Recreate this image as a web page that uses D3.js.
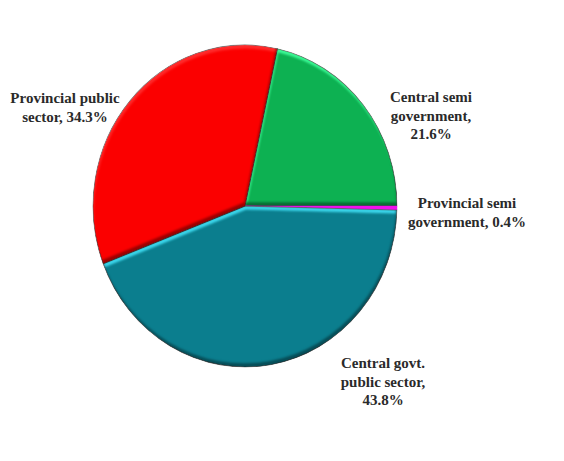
<!DOCTYPE html>
<html>
<head>
<meta charset="utf-8">
<script src="https://cdn.jsdelivr.net/npm/d3@7"></script>
<style>
  html, body { margin: 0; padding: 0; background: #fff; }
  svg { display: block; }
</style>
</head>
<body>
<svg id="chart" width="564" height="461"></svg>
<script>
const categories = ["Central semi government", "Provincial semi government", "Central govt. public sector", "Provincial public sector"];
const values = [21.6, 0.4, 43.8, 34.3];
const labelLines = [
  ["Central semi", "government,", "21.6%"],
  ["Provincial semi", "government, 0.4%"],
  ["Central govt.", "public sector,", "43.8%"],
  ["Provincial public", "sector, 34.3%"]
];
const colors = ["#0db152", "#f010ee", "#0b7e8e", "#fb0000"];
const labelPos = [[431, 102], [467, 208], [383, 368], [65, 103]];

const svg = d3.select("#chart");
const cx = 245, cy = 206, rx = 152, ry = 161;

const defs = svg.append("defs");
const f = defs.append("filter").attr("id", "bevel")
  .attr("color-interpolation-filters", "sRGB")
  .attr("x", "-10%").attr("y", "-10%").attr("width", "120%").attr("height", "120%");
// light top band
f.append("feOffset").attr("in", "SourceAlpha").attr("dx", 1).attr("dy", 3.5).attr("result", "down");
f.append("feComposite").attr("in", "SourceAlpha").attr("in2", "down").attr("operator", "out").attr("result", "topEdge");
f.append("feGaussianBlur").attr("in", "topEdge").attr("stdDeviation", 0.9).attr("result", "topBlur");
const lt = f.append("feComponentTransfer").attr("in", "SourceGraphic").attr("result", "lighter");
["feFuncR", "feFuncG", "feFuncB"].forEach(fn => lt.append(fn).attr("type", "linear").attr("slope", 1.35).attr("intercept", 0.18));
f.append("feComposite").attr("in", "lighter").attr("in2", "topBlur").attr("operator", "in").attr("result", "hl");
// dark bottom band
f.append("feOffset").attr("in", "SourceAlpha").attr("dx", -1).attr("dy", -3.5).attr("result", "up");
f.append("feComposite").attr("in", "SourceAlpha").attr("in2", "up").attr("operator", "out").attr("result", "botEdge");
f.append("feGaussianBlur").attr("in", "botEdge").attr("stdDeviation", 1).attr("result", "botBlur");
const dk = f.append("feComponentTransfer").attr("in", "SourceGraphic").attr("result", "darker");
["feFuncR", "feFuncG", "feFuncB"].forEach(fn => dk.append(fn).attr("type", "linear").attr("slope", 0.6).attr("intercept", 0));
f.append("feComposite").attr("in", "darker").attr("in2", "botBlur").attr("operator", "in").attr("result", "sh");
const m = f.append("feMerge").attr("result", "merged");
m.append("feMergeNode").attr("in", "SourceGraphic");
m.append("feMergeNode").attr("in", "hl");
m.append("feMergeNode").attr("in", "sh");
f.append("feComposite").attr("in", "merged").attr("in2", "SourceAlpha").attr("operator", "in");

const total = d3.sum(values);
const start = Math.PI / 2 - (values[0] / total) * 2 * Math.PI;
const pie = d3.pie().sort(null).value(d => d).startAngle(start).endAngle(start + 2 * Math.PI);
const arcs = pie(values);
const arc = d3.arc().innerRadius(0).outerRadius(rx);

const g = svg.append("g").attr("transform", `translate(${cx},${cy}) scale(1,${ry / rx})`);
g.selectAll("path").data(arcs).join("path")
  .attr("d", arc)
  .attr("fill", (d, i) => colors[i])
  .attr("stroke", (d, i) => i === 1 ? colors[i] : "#2e2e2e")
  .attr("stroke-width", (d, i) => i === 1 ? 0.6 : 1)
  .attr("stroke-opacity", 0.75)
  .attr("filter", (d, i) => i === 1 ? null : "url(#bevel)");

const lg = svg.append("g")
  .attr("font-family", "'Liberation Serif', 'DejaVu Serif', serif")
  .attr("font-size", 15)
  .attr("font-weight", "bold")
  .attr("fill", "#2a2a2a")
  .attr("text-anchor", "middle");
labelLines.forEach((lines, i) => {
  const t = lg.append("text").attr("x", labelPos[i][0]).attr("y", labelPos[i][1]);
  lines.forEach((s, j) => {
    t.append("tspan").attr("x", labelPos[i][0]).attr("dy", j === 0 ? 0 : 18.5).text(s);
  });
});
</script>
</body>
</html>
